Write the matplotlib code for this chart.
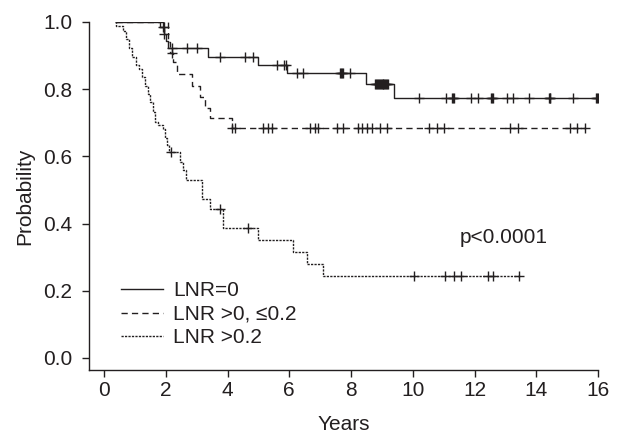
import matplotlib.pyplot as plt
import numpy as np

# Kaplan-Meier steps: (time in years, survival after the step)
t0 = [0.38, 1.81, 1.95, 2.0, 2.08, 3.38, 5.0, 5.92, 8.5, 9.4]
s0 = [1.0, 0.985, 0.965, 0.942, 0.922, 0.897, 0.872, 0.848, 0.815, 0.773]
end0 = 16.0
c0 = [1.9, 1.93, 1.95, 2.19, 2.68, 3.0, 3.76, 4.57, 4.83, 5.59, 5.84, 5.88,
      6.24, 6.46, 7.65, 7.68, 7.72, 7.75, 7.97,
      8.78, 8.81, 8.84, 8.87, 8.9, 8.93, 8.96, 8.99, 9.02, 9.05, 9.08, 9.11,
      9.14, 9.17, 9.2,
      10.2, 11.08, 11.26, 11.29, 11.32, 11.9, 12.1, 12.55, 12.58, 12.6, 13.04,
      13.26, 13.78, 14.4, 14.43, 14.45, 15.2, 15.94, 15.97, 16.0]

t1 = [0.38, 2.08, 2.15, 2.25, 2.38, 2.84, 3.11, 3.28, 3.43, 4.13]
s1 = [1.0, 0.94, 0.908, 0.88, 0.845, 0.808, 0.776, 0.745, 0.713, 0.684]
end1 = 15.58
c1 = [2.2, 4.13, 4.24, 5.16, 5.3, 5.43, 6.67, 6.83, 6.93, 7.54, 7.75, 8.24,
      8.35, 8.51, 8.67, 8.94, 9.16, 10.54, 10.77, 11.01, 13.15, 13.42, 15.09,
      15.33, 15.58]

t2 = [0.36, 0.4, 0.6, 0.72, 0.8, 0.9, 1.05, 1.12, 1.22, 1.33, 1.42, 1.49,
      1.6, 1.65, 1.75, 1.9, 1.98, 2.05, 2.12, 2.46, 2.57, 2.64, 3.16, 3.43,
      3.84, 3.86, 5.0, 6.13, 6.59, 7.1]
s2 = [1.0, 0.988, 0.974, 0.948, 0.922, 0.897, 0.872, 0.86, 0.837, 0.81, 0.785,
      0.763, 0.733, 0.703, 0.693, 0.68, 0.654, 0.634, 0.614, 0.584, 0.56, 0.53,
      0.473, 0.443, 0.416, 0.386, 0.351, 0.314, 0.28, 0.244]
end2 = 13.44
c2 = [2.17, 3.76, 4.67, 10.05, 11.05, 11.35, 11.55, 12.45, 12.6, 13.44]

labels = ['LNR=0', 'LNR >0, \u22640.2', 'LNR >0.2']
styles = ['-', (0, (4.5, 3)), (0, (1.6, 0.9))]

ink = '#231f20'
fs = 15
plt.rcParams['font.family'] = ['Liberation Sans', 'DejaVu Sans']

fig = plt.figure(figsize=(6.21, 4.38), dpi=100)
ax = fig.add_axes([0.1433, 0.1553, 0.8197, 0.7945])

for t, s, end, c, lab, ls in [(t0, s0, end0, c0, labels[0], styles[0]),
                              (t1, s1, end1, c1, labels[1], styles[1]),
                              (t2, s2, end2, c2, labels[2], styles[2])]:
    tt = np.append(t, end)
    ss = np.append(s, s[-1])
    ax.step(tt, ss, where='post', color=ink, lw=1.0, linestyle=ls, label=lab)
    idx = np.searchsorted(t, c, side='right') - 1
    ax.plot(c, np.array(s)[idx], '+', color=ink, ms=7, mew=1.0, linestyle='none')

ax.set_xlim(-0.486, 16)
ax.set_ylim(-0.036, 1.0)
ax.set_xticks(np.arange(0, 17, 2))
ax.set_yticks(np.arange(0, 1.01, 0.2))
ax.set_yticklabels(['0.0', '0.2', '0.4', '0.6', '0.8', '1.0'])
for sp in ['top', 'right']:
    ax.spines[sp].set_visible(False)
for sp in ['left', 'bottom']:
    ax.spines[sp].set_color(ink)
    ax.spines[sp].set_linewidth(1.0)
ax.tick_params(direction='out', length=5, width=1.0, color=ink,
               labelsize=fs, labelcolor=ink)
ax.tick_params(axis='y', pad=7)
ax.tick_params(axis='x', pad=3)
ax.set_xlabel('Years', fontsize=fs, color=ink, labelpad=11)
ax.set_ylabel('Probability', fontsize=fs, color=ink, labelpad=6)

ax.text(12.94, 0.357, 'p<0.0001', fontsize=fs, color=ink, ha='center', va='center')

leg = ax.legend(loc='upper left', bbox_to_anchor=(0.063, 0.255), frameon=False,
                fontsize=fs, handlelength=2.0, handletextpad=0.5,
                labelspacing=0.22, borderpad=0, borderaxespad=0)
for txt in leg.get_texts():
    txt.set_color(ink)

fig.savefig('out.png', dpi=100)
